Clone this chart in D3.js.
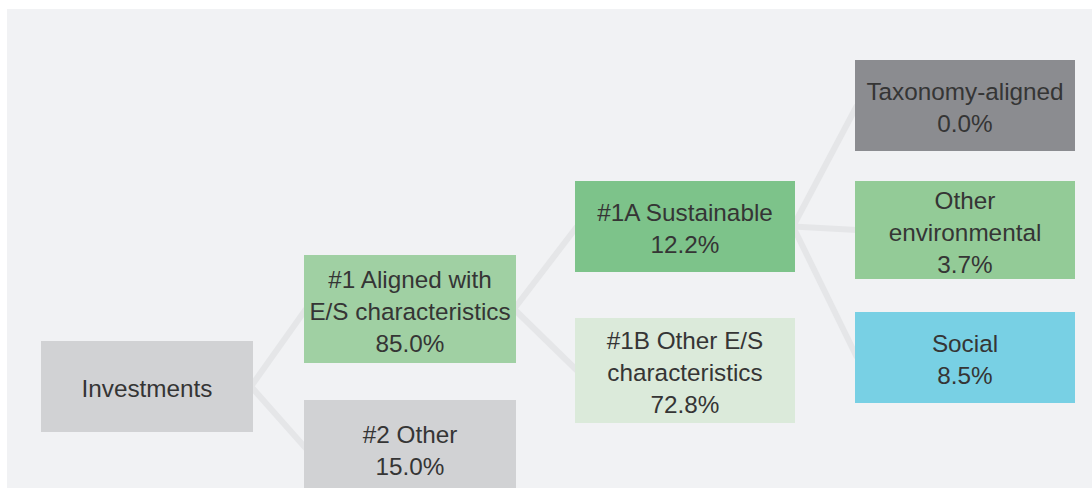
<!DOCTYPE html>
<html>
<head>
<meta charset="utf-8">
<script src="https://cdn.jsdelivr.net/npm/d3@7"></script>
<style>
  html, body { margin: 0; padding: 0; background: #ffffff; }
  svg { display: block; }
</style>
</head>
<body>
<div id="chart"></div>
<script>
// ---- data ----
const nodeNames = ["Investments", "#1 Aligned with\nE/S characteristics", "#2 Other",
  "#1A Sustainable", "#1B Other E/S\ncharacteristics", "Taxonomy-aligned",
  "Other\nenvironmental", "Social"];
const nodeValues = [null, 85.0, 15.0, 12.2, 72.8, 0.0, 3.7, 8.5];
const nodeParents = [null, 0, 0, 1, 1, 3, 3, 3];
const nodeColors = ["#d1d2d4", "#a0d0a3", "#d1d2d4", "#7dc38a", "#dbeada", "#8b8c90", "#93cb97", "#78d0e4"];

// ---- layout (positions/sizes kept separate from data) ----
const W = 1092, H = 488;
const depthOf = i => nodeParents[i] === null ? 0 : depthOf(nodeParents[i]) + 1;
const colX = d3.scaleOrdinal().domain([0, 1, 2, 3]).range([41, 304, 575, 855]);
const colW = d3.scaleOrdinal().domain([0, 1, 2, 3]).range([212, 212, 220, 220]);
const boxLayout = [
  { y: 341, h: 91 }, { y: 255, h: 108 }, { y: 400, h: 97 }, { y: 181, h: 91 },
  { y: 318, h: 105 }, { y: 60, h: 91 }, { y: 181, h: 98 }, { y: 312, h: 91 }
];

const nodes = nodeNames.map((name, i) => {
  const dep = depthOf(i);
  return {
    i, name, value: nodeValues[i], parent: nodeParents[i], color: nodeColors[i],
    x: colX(dep), w: colW(dep), y: boxLayout[i].y, h: boxLayout[i].h
  };
});

const svg = d3.select("#chart").append("svg").attr("width", W).attr("height", H);
svg.append("rect").attr("x", 7).attr("y", 9).attr("width", W - 7).attr("height", H - 9).attr("fill", "#f1f2f4");

// links
const links = nodes.filter(n => n.parent !== null).map(n => ({ s: nodes[n.parent], t: n }));
svg.append("g").selectAll("line").data(links).join("line")
  .attr("x1", d => d.s.x + d.s.w - 2)
  .attr("y1", d => d.s.y + d.s.h / 2)
  .attr("x2", d => d.t.x + 2)
  .attr("y2", d => d.t.y + d.t.h / 2)
  .attr("stroke", "#e5e6e8")
  .attr("stroke-width", 6);

// boxes
const g = svg.append("g").selectAll("g").data(nodes).join("g");
g.append("rect")
  .attr("x", d => d.x).attr("y", d => d.y)
  .attr("width", d => d.w).attr("height", d => d.h)
  .attr("fill", d => d.color);

const fmt = d3.format(".1f");
const LH = 32;
g.each(function (d) {
  const lines = d.name.split("\n");
  if (d.value !== null) lines.push(fmt(d.value) + "%");
  const cx = d.x + d.w / 2, cy = d.y + d.h / 2;
  const n = lines.length;
  d3.select(this).append("text")
    .attr("text-anchor", "middle")
    .attr("font-family", "'Liberation Sans', Arial, sans-serif")
    .attr("font-size", 24.3)
    .attr("fill", "#353535")
    .selectAll("tspan").data(lines).join("tspan")
    .attr("x", cx)
    .attr("y", (l, k) => cy + (k - (n - 1) / 2) * LH + 10.5)
    .text(l => l);
});
</script>
</body>
</html>
